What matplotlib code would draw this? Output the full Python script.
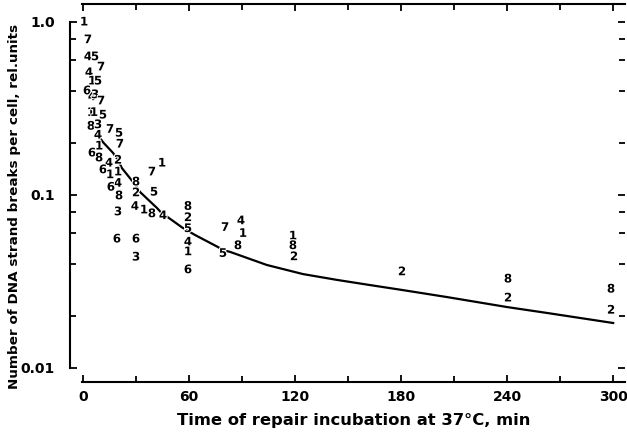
import matplotlib
matplotlib.use("Agg")
import matplotlib.pyplot as plt
import matplotlib.patheffects as pe

# data points, each drawn as its experiment number (1-8)
point_time = [0.6, 2.8, 2.8, 6.8, 10.2, 3.4, 5.1, 8.5, 2.3, 5.1, 6.8, 10.2,
              4.5, 6.2, 11.3, 4.5, 8.5, 15.3, 20.4, 8.5, 20.9, 9.1,
              5.1, 9.1, 14.7, 19.8, 11.3, 15.3, 19.8, 39.0, 44.7,
              30.0, 19.8, 15.8, 20.4, 30.0, 40.2,
              29.4, 34.5, 39.0, 45.3, 19.8,
              59.4, 59.4, 59.4, 59.4, 59.4, 59.4,
              80.4, 79.2, 89.4, 90.5, 87.7,
              19.2, 30.0, 30.0,
              118.8, 118.8, 119.4, 180.5, 240.5, 240.5, 298.8, 298.8]
point_value = [1.0, 0.79, 0.63, 0.63, 0.55, 0.51, 0.456, 0.456, 0.40, 0.37, 0.38, 0.35,
               0.30, 0.30, 0.29, 0.25, 0.255, 0.24, 0.228, 0.222, 0.197, 0.192,
               0.175, 0.164, 0.153, 0.159, 0.140, 0.131, 0.136, 0.136, 0.153,
               0.119, 0.117, 0.111, 0.099, 0.103, 0.104,
               0.086, 0.082, 0.078, 0.076, 0.080,
               0.086, 0.074, 0.064, 0.0535, 0.047, 0.037,
               0.065, 0.046, 0.071, 0.060, 0.051,
               0.0557, 0.0557, 0.0438,
               0.058, 0.051, 0.044, 0.036, 0.0327, 0.0254, 0.0286, 0.0216]
point_series = ["1", "7", "4", "5", "7", "4", "1", "5", "6", "4", "3", "7",
                "1", "1", "5", "8", "3", "7", "5", "4", "7", "1",
                "6", "8", "4", "2", "6", "1", "1", "7", "1",
                "8", "4", "6", "8", "2", "5",
                "4", "1", "8", "4", "3",
                "8", "2", "5", "4", "1", "6",
                "7", "5", "4", "1", "8",
                "6", "6", "3",
                "1", "8", "2", "2", "8", "2", "8", "2"]

# fitted repair curve
curve_time = [8.5, 11.3, 17.0, 19.8, 22.0, 26.6, 30.0, 32.3, 41.9, 45.3, 47.5,
              56.0, 59.4, 63.4, 76.4, 79.2, 83.2, 104.0, 124.5, 143.7, 162.0,
              181.0, 206.0, 240.0, 262.6, 300.0]
curve_value = [0.222, 0.202, 0.175, 0.159, 0.143, 0.125, 0.113, 0.104, 0.084, 0.077, 0.075,
               0.065, 0.062, 0.0587, 0.050, 0.048, 0.0469, 0.0394, 0.0349, 0.0323, 0.0302,
               0.0282, 0.0257, 0.0225, 0.0208, 0.0182]

fig = plt.figure(figsize=(6.27, 4.34), dpi=100)
ax = fig.add_axes([82 / 627, 52 / 434, 543 / 627, 378 / 434])

ax.plot(curve_time, curve_value, color="black", lw=1.6, zorder=1)
for t, v, s in zip(point_time, point_value, point_series):
    ax.text(t, v, s, ha="center", va="center", fontsize=8.5, fontweight="bold",
            zorder=2, path_effects=[pe.withStroke(linewidth=1.5, foreground="white")])

ax.set_yscale("log")
ax.set_xlim(-0.57, 306.7)
ax.set_ylim(0.0083, 1.27)

ax.set_xticks([0, 60, 120, 180, 240, 300])
ax.set_xticks(range(30, 300, 60), minor=True)
ax.set_yticks([0.01, 0.1, 1.0])
ax.set_yticklabels(["0.01", "0.1", "1.0"])
ax.set_yticks([0.02, 0.04, 0.06, 0.08, 0.2, 0.4, 0.6, 0.8], minor=True)
ax.yaxis.set_minor_formatter(matplotlib.ticker.NullFormatter())

ax.spines["right"].set_visible(False)
ax.spines["left"].set_position(("outward", 8.6))
ax.spines["left"].set_bounds(0.01, 1.0)
for sp in ax.spines.values():
    sp.set_linewidth(1.5)

ax.tick_params(which="both", direction="in", top=True, right=True, width=1.3)
ax.tick_params(which="major", length=5)
ax.tick_params(which="minor", length=4)
ax.tick_params(axis="y", pad=11, labelsize=10)
ax.tick_params(axis="x", pad=6, labelsize=10)
for lab in ax.get_xticklabels() + ax.get_yticklabels():
    lab.set_fontweight("bold")

ax.set_xlabel("Time of repair incubation at 37°C, min", fontsize=11.8, fontweight="bold", labelpad=6)
fig.text(15 / 627, 1 - 206 / 434, "Number of DNA strand breaks per cell, rel.units",
         rotation=90, ha="center", va="center", fontsize=9.7, fontweight="bold")

fig.savefig("out.png", dpi=100)
